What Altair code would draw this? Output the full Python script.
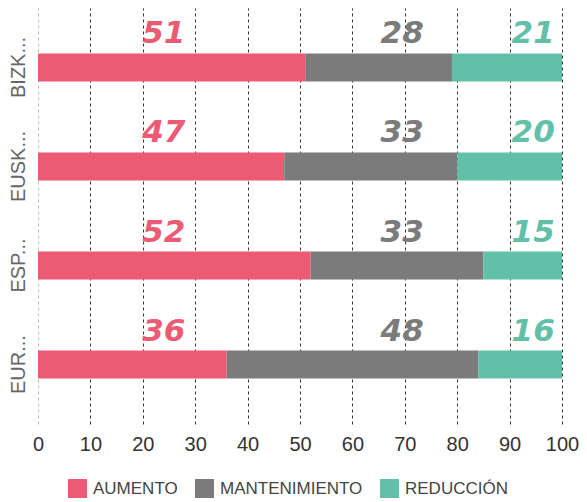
import altair as alt
import pandas as pd

regions = ["BIZK...", "EUSK...", "ESP...", "EUR..."]
aumento = [51, 47, 52, 36]
mantenimiento = [28, 33, 33, 48]
reduccion = [21, 20, 15, 16]
series = ["AUMENTO", "MANTENIMIENTO", "REDUCCIÓN"]
colors = ["#EC5B74", "#7B7B7B", "#62BFA8"]
x_ticks = [0, 10, 20, 30, 40, 50, 60, 70, 80, 90, 100]

label_x = {"AUMENTO": 24, "MANTENIMIENTO": 69.5, "REDUCCIÓN": 94.5}

rows = []
for i, r in enumerate(regions):
    for k, (s, v) in enumerate(zip(series, [aumento[i], mantenimiento[i], reduccion[i]])):
        rows.append({"region": r, "serie": s, "valor": v, "orden": k, "lx": label_x[s]})
df = pd.DataFrame(rows)

color_scale = alt.Scale(domain=series, range=colors)
y_enc = alt.Y("region:N", sort=regions, title=None,
              scale=alt.Scale(paddingInner=0, paddingOuter=0.1),
              axis=alt.Axis(labelAngle=-90, labelFontSize=20, labelColor="#666666",
                            labelFont="Liberation Sans", domain=False, ticks=False,
                            labelPadding=10, grid=False, labelBaseline="bottom",
                            labelAlign="center"))

bars = alt.Chart(df).mark_bar(size=28).encode(
    x=alt.X("valor:Q", stack="zero", title=None,
            scale=alt.Scale(domain=[0, 100], nice=False),
            axis=alt.Axis(values=x_ticks, domain=False, ticks=False, labelFontSize=20,
                          labelColor="#333333", labelFont="Liberation Sans",
                          labelPadding=10, labelFlush=False, labelOverlap=False,
                          grid=True, gridDash=[3, 3],
                          gridColor=alt.condition("datum.value == 0", alt.value("#bbbbbb"), alt.value("#333333")))),
    y=y_enc,
    color=alt.Color("serie:N", scale=color_scale, sort=series, title=None,
                    legend=alt.Legend(orient="none", legendX=30, legendY=471,
                                      direction="horizontal", symbolType="square",
                                      symbolSize=360, symbolStrokeWidth=0, labelFontSize=17,
                                      labelColor="#444444", labelFont="Liberation Sans",
                                      columnPadding=17, symbolOffset=0, labelOffset=6)),
    order=alt.Order("orden:Q"),
)

texts = alt.Chart(df).mark_text(fontSize=31, fontWeight="bold", fontStyle="italic",
                                font="DejaVu Sans", dy=-33).encode(
    x=alt.X("lx:Q"),
    y=alt.Y("region:N", sort=regions),
    text=alt.Text("valor:Q"),
    color=alt.Color("serie:N", scale=color_scale, legend=None),
)

chart = alt.layer(bars, texts).properties(
    width=524, height=416,
    autosize=alt.AutoSizeParams(type="none"),
    padding={"left": 30, "top": 0, "right": 17, "bottom": 76},
).configure_view(stroke=None)

chart.save("out.html", embed_options={"renderer": "svg", "actions": False})
